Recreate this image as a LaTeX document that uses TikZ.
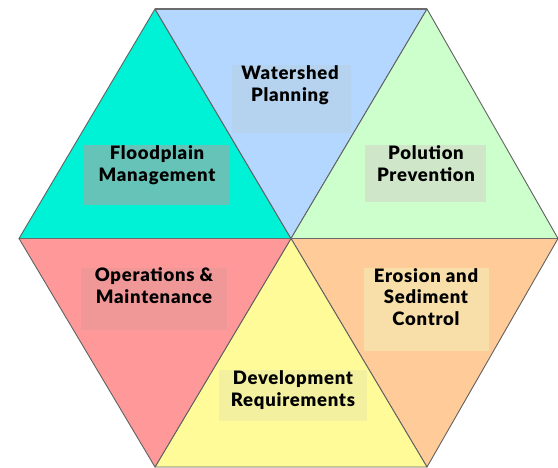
\documentclass[tikz,border=0pt]{standalone}
\usepackage{fontspec}
\newfontfamily\lblfont{Lato Black}[LetterSpace=4]
\definecolor{cFlood}{HTML}{00F2D6}
\definecolor{cWater}{HTML}{B3D7FF}
\definecolor{cPol}{HTML}{CCFFCC}
\definecolor{cEro}{HTML}{FFCC99}
\definecolor{cDev}{HTML}{FFFB99}
\definecolor{cOps}{HTML}{FF9999}
\definecolor{bFlood}{HTML}{66C3B7}
\definecolor{bWater}{HTML}{B5D2EE}
\definecolor{bPol}{HTML}{CFE6C8}
\definecolor{bEro}{HTML}{F8DFAA}
\definecolor{bDev}{HTML}{F3F09F}
\definecolor{bOps}{HTML}{F09898}
\tikzset{
  tri/.style={draw=black!62,line width=0.9pt,line join=round},
  flatedge/.style={draw=black!58,line width=1.6pt},
  labelbox/.style={anchor=north west,inner sep=0pt,outer sep=0pt},
  labeltext/.style={anchor=base,inner sep=0pt,align=center,text=black,
    font=\fontsize{18.5}{21.6}\selectfont\lblfont}
}
\begin{document}
\begin{tikzpicture}[x=1pt,y=-1pt]
\useasboundingbox (0,0) rectangle (558,467);
\coordinate (C) at (291,238.5);
\coordinate (L) at (19,238.5);
\coordinate (R) at (558,238.5);
\coordinate (TL) at (155,9);
\coordinate (TR) at (427,9);
\coordinate (BL) at (155,467);
\coordinate (BR) at (427,467);
\fill[white] (0,0) rectangle (558,467);
\filldraw[tri,fill=cFlood] (L) -- (TL) -- (C) -- cycle;
\filldraw[tri,fill=cWater] (TL) -- (TR) -- (C) -- cycle;
\filldraw[tri,fill=cPol] (TR) -- (R) -- (C) -- cycle;
\filldraw[tri,fill=cEro] (R) -- (BR) -- (C) -- cycle;
\filldraw[tri,fill=cDev] (BR) -- (BL) -- (C) -- cycle;
\filldraw[tri,fill=cOps] (BL) -- (L) -- (C) -- cycle;
\draw[flatedge] (L) -- (R);
\draw[flatedge] (TL) -- (TR);
\node[labelbox,fill=bWater,minimum width=119pt,minimum height=68pt] (bw) at (232,65) {};
\node[labelbox,fill=bFlood,minimum width=146pt,minimum height=60pt] (bf) at (84,145) {};
\node[labelbox,fill=bPol,minimum width=121pt,minimum height=57pt] (bp) at (365,145) {};
\node[labelbox,fill=bEro,minimum width=125pt,minimum height=83pt] (be) at (364,268) {};
\node[labelbox,fill=bOps,minimum width=146pt,minimum height=62pt] (bo) at (81,268) {};
\node[labelbox,fill=bDev,minimum width=148pt,minimum height=51pt] (bd) at (219,370) {};
\node[labeltext] (tw) at (290,101.5) {Watershed\\Planning};
\node[labeltext] (tf) at (157,181.5) {Floodplain\\Management};
\node[labeltext] (tp) at (426,181.5) {Polution\\Prevention};
\node[labeltext] (te) at (426,325.5) {Erosion and\\Sediment\\Control};
\node[labeltext] (to) at (154,303.5) {Operations \&\\Maintenance};
\node[labeltext] (td) at (293,406.5) {Development\\Requirements};
\end{tikzpicture}
\end{document}
